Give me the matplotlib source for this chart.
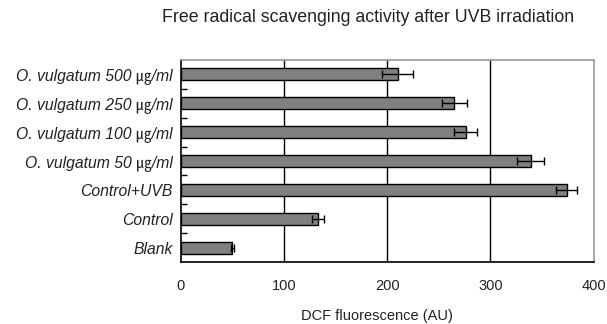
import matplotlib
matplotlib.use("Agg")
import matplotlib.pyplot as plt
import numpy as np

plt.rcParams["font.family"] = ["Liberation Sans", "Noto Sans CJK KR", "DejaVu Sans"]

categories = ["Blank", "Control", "Control+UVB",
              "O. vulgatum 50 ㎍/ml", "O. vulgatum 100 ㎍/ml",
              "O. vulgatum 250 ㎍/ml", "O. vulgatum 500 ㎍/ml"]
values = [50, 133, 374, 339, 276, 265, 210]
errors = [1, 6, 10, 13, 11, 12, 15]
xticks = [0, 100, 200, 300, 400]

fig = plt.figure(figsize=(6.07, 3.24), dpi=100)
ax = fig.add_axes([0.298, 0.191, 0.680, 0.624])

y = np.arange(len(categories))
ax.barh(y, values, height=0.42, color="#808080", edgecolor="black", linewidth=1.0, zorder=3)
ax.errorbar(values, y, xerr=errors, fmt="none", ecolor="black", elinewidth=1.0,
            capsize=3, capthick=1.0, zorder=4)

ax.set_xlim(0, 400)
ax.set_ylim(-0.5, len(categories) - 0.5)
ax.set_xticks(xticks)
ax.set_xticklabels([str(t) for t in xticks], fontsize=10.5, color="#222222")
ax.tick_params(axis="x", length=0, pad=12)
ax.set_yticks(y)
ax.set_yticklabels(categories, fontsize=11.3, style="italic", color="#222222")
ax.tick_params(axis="y", length=0, pad=6)
ax.set_yticks(np.arange(len(categories) - 1) + 0.5, minor=True)
ax.tick_params(axis="y", which="minor", direction="in", length=4, width=1)

for xv in xticks[1:-1]:
    ax.axvline(xv, color="black", linewidth=1.0, zorder=1)

ax.spines["left"].set_color("black")
ax.spines["bottom"].set_color("black")
ax.spines["top"].set_color("#999999")
ax.spines["right"].set_color("#999999")
for s in ax.spines.values():
    s.set_linewidth(1.2)

fig.text(0.621, 0.025, "DCF fluorescence (AU)", ha="center", va="center",
         fontsize=10.5, color="#222222")
fig.text(0.606, 0.945, "Free radical scavenging activity after UVB irradiation",
         ha="center", va="center", fontsize=12.8, color="#222222")

fig.savefig("out.png", dpi=100)
